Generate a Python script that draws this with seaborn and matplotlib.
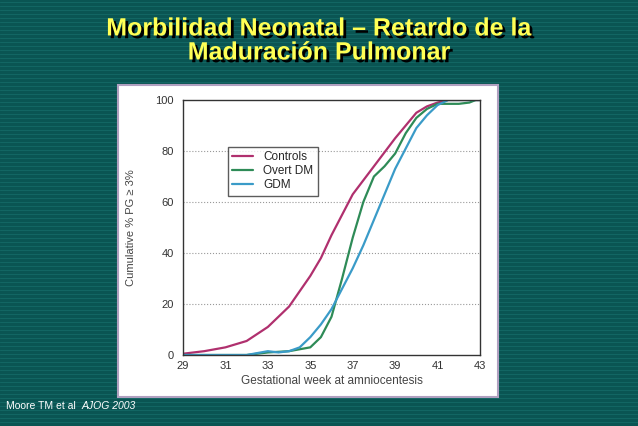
import numpy as np
import pandas as pd
import seaborn as sns
import matplotlib.pyplot as plt
import matplotlib.patheffects as pe
from matplotlib.patches import Rectangle

# values
controls_x = [29, 30, 31, 32, 33, 34, 35, 35.5, 36, 36.5, 37, 38, 39, 40, 40.5, 41, 41.5, 43]
controls_y = [0.5, 1.5, 3, 5.5, 11, 19, 31, 38, 47, 55, 63, 74, 85, 95, 97.5, 99, 100, 100]
overt_x = [29, 32, 33, 34, 35, 35.5, 36, 36.5, 37, 37.5, 38, 38.5, 39, 39.5, 40, 40.5, 41, 42, 42.5, 42.8, 43]
overt_y = [0, 0, 1, 1.5, 3, 7, 15, 30, 46, 60, 70, 74, 79, 87, 93, 96.5, 98.5, 98.5, 99, 100, 100]
gdm_x = [29, 32, 33, 33.5, 34, 34.5, 35, 35.5, 36, 36.5, 37, 37.5, 38, 38.5, 39, 39.5, 40, 40.5, 41, 41.5, 43]
gdm_y = [0, 0, 1.5, 1, 1.5, 3, 7, 12, 18, 26, 34, 43, 53, 63, 73, 81, 89, 94, 98, 100, 100]

series = ["Controls", "Overt DM", "GDM"]
colors = ["#b0306e", "#2e8b57", "#3a9bc8"]

df = pd.concat([
    pd.DataFrame({"week": controls_x, "pct": controls_y, "group": "Controls"}),
    pd.DataFrame({"week": overt_x, "pct": overt_y, "group": "Overt DM"}),
    pd.DataFrame({"week": gdm_x, "pct": gdm_y, "group": "GDM"}),
])

sns.set_style("white")
plt.rcParams["font.family"] = ["Liberation Sans", "DejaVu Sans"]

fig = plt.figure(figsize=(6.38, 4.26), dpi=100)
fig.patch.set_facecolor("#0a5553")

# striped background
bg = fig.add_axes([0, 0, 1, 1])
bg.set_xlim(0, 1)
bg.set_ylim(0, 426)
for yy in np.arange(0, 426, 4):
    bg.axhline(yy, color="#126663", lw=0.8, zorder=1)
bg.axis("off")

# white panel
bg.add_patch(Rectangle((118 / 638, 426 - 397), 380 / 638, 312, facecolor="white",
                       edgecolor="#b0a0c0", lw=1.5, zorder=5))

fig.text(0.5, 0.905, "Morbilidad Neonatal – Retardo de la\nMaduración Pulmonar",
         ha="center", va="center", fontsize=18, fontweight="bold", color="#ffff55",
         linespacing=1.0,
         path_effects=[pe.withSimplePatchShadow(offset=(2, -2), shadow_rgbFace="black", alpha=1)])

fig.text(0.01, 0.04, "Moore TM et al", color="white", fontsize=7.5)
fig.text(0.127, 0.04, "AJOG 2003", color="white", fontsize=7.5, style="italic")

ax = fig.add_axes([183 / 638, 71 / 426, 297 / 638, 255 / 426])
sns.lineplot(data=df, x="week", y="pct", hue="group", palette=dict(zip(series, colors)),
             ax=ax, lw=1.6, estimator=None, sort=False)
ax.set_xlim(29, 43)
ax.set_ylim(0, 100)
ax.set_xticks(range(29, 44, 2))
ax.set_yticks(range(0, 101, 20))
for g in [20, 40, 60, 80]:
    ax.axhline(g, color="#999999", ls=":", lw=0.8, zorder=0)
ax.tick_params(labelsize=8, length=3, direction="out", colors="#333333")
ax.tick_params(axis="x", pad=1)
for s in ax.spines.values():
    s.set_color("#333333")
    s.set_linewidth(1)
ax.set_xlabel("Gestational week at amniocentesis", fontsize=8.5, color="#444444", labelpad=3)
ax.set_ylabel("Cumulative % PG ≥ 3%", fontsize=8, color="#444444", labelpad=14)
leg = ax.legend(title=None, loc="upper left", bbox_to_anchor=(0.13, 0.84), fontsize=8.5,
                frameon=True, fancybox=False, edgecolor="#333333", handlelength=1.8,
                labelspacing=0.15)

fig.savefig("out.png", dpi=100, facecolor=fig.get_facecolor())
